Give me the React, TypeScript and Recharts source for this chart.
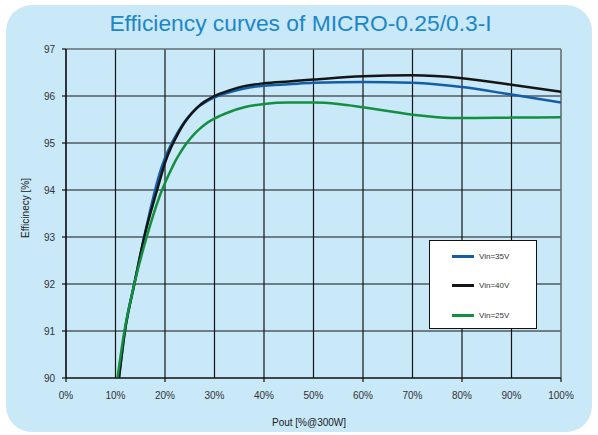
import React from "react";
import { LineChart, Line, XAxis, YAxis, CartesianGrid, ReferenceLine } from "recharts";

// Values (load in % of 300W, efficiency in %).
const xTicks = [0, 10, 20, 30, 40, 50, 60, 70, 80, 90, 100];
const yTicks = [90, 91, 92, 93, 94, 95, 96, 97];

const load35 = [10.7, 11.9, 13.8, 15.8, 18, 19, 20, 21, 22, 23, 24, 25, 26, 27, 28, 30, 33, 36, 40, 45, 50, 60, 70, 80, 90, 100];
const eff35 = [90, 91, 92, 93, 94, 94.38, 94.68, 94.92, 95.12, 95.3, 95.46, 95.59, 95.7, 95.79, 95.86, 95.97, 96.08, 96.16, 96.22, 96.25, 96.28, 96.3, 96.28, 96.19, 96.03, 95.86];

const load40 = [10.7, 11.9, 13.8, 15.8, 18.4, 19, 20, 21, 22, 23, 24, 25, 26, 27, 28, 30, 33, 36, 40, 45, 50, 60, 70, 80, 90, 100];
const eff40 = [90, 91, 92, 93, 94, 94.22, 94.58, 94.85, 95.07, 95.27, 95.44, 95.58, 95.7, 95.8, 95.88, 96.0, 96.12, 96.21, 96.27, 96.31, 96.35, 96.42, 96.44, 96.38, 96.24, 96.09];

const load25 = [10.4, 11.8, 13.8, 16.3, 19.4, 20, 21, 22, 23, 24, 25, 26, 27, 28, 30, 33, 36, 40, 45, 50, 55, 60, 65, 70, 75, 80, 90, 100];
const eff25 = [90, 91, 92, 93, 94, 94.15, 94.38, 94.6, 94.78, 94.94, 95.08, 95.2, 95.3, 95.39, 95.52, 95.66, 95.76, 95.83, 95.86, 95.86, 95.83, 95.76, 95.68, 95.6, 95.55, 95.53, 95.54, 95.55];

const series = [
  { name: "Vin=35V", color: "#145ea8", load: load35, eff: eff35 },
  { name: "Vin=40V", color: "#151515", load: load40, eff: eff40 },
  { name: "Vin=25V", color: "#12903f", load: load25, eff: eff25 },
];

const FONT = "'Liberation Sans', Arial, sans-serif";

function XTick(props: { x?: number; y?: number; payload?: { value: number } }) {
  const x = Number(props.x);
  const y = Number(props.y);
  const v = props.payload ? props.payload.value : 0;
  return (
    <g>
      {v % 20 === 0 && <line x1={x} x2={x} y1={y} y2={y + 4} stroke="#111" strokeWidth={1.2} />}
      <text x={x} y={y + 21} textAnchor="middle" fontSize={10} fill="#333" fontFamily={FONT}>
        {`${v}%`}
      </text>
    </g>
  );
}

function YTick(props: { x?: number; y?: number; payload?: { value: number } }) {
  const x = Number(props.x);
  const y = Number(props.y);
  const v = props.payload ? props.payload.value : 0;
  return (
    <g>
      <line x1={x - 4} x2={x} y1={y} y2={y} stroke="#111" strokeWidth={1.2} />
      <text x={x - 11} y={y + 3.5} textAnchor="end" fontSize={10} fill="#333" fontFamily={FONT}>
        {v}
      </text>
    </g>
  );
}

export default function App() {
  return (
    <div style={{ position: "relative", width: 598, height: 435, background: "#fff", fontFamily: FONT }}>
      <style>{`body{margin:0}`}</style>
      <div
        style={{
          position: "absolute",
          left: 6,
          top: 5,
          width: 586,
          height: 427,
          borderRadius: 26,
          background: "#c9e8f8",
        }}
      />
      <div
        style={{
          position: "absolute",
          left: 0,
          top: 10,
          width: 601,
          textAlign: "center",
          fontSize: 22.8,
          color: "#1b87c9",
          lineHeight: "26px",
        }}
      >
        Efficiency curves of MICRO-0.25/0.3-I
      </div>
      <div style={{ position: "absolute", left: 0, top: 0 }}>
        <LineChart width={598} height={435} margin={{ top: 49, right: 37, bottom: 0, left: 0 }}>
          <CartesianGrid stroke="#151515" strokeWidth={1.2} />
          <XAxis
            type="number"
            dataKey="load"
            domain={[0, 100]}
            ticks={xTicks}
            interval={0}
            height={57}
            tickSize={0}
            tickMargin={0}
            tick={<XTick />}
            axisLine={{ stroke: "#111", strokeWidth: 1.2 }}
            allowDataOverflow
          />
          <YAxis
            type="number"
            domain={[90, 97]}
            ticks={yTicks}
            interval={0}
            width={66}
            tickSize={0}
            tickMargin={0}
            tick={<YTick />}
            axisLine={{ stroke: "#111", strokeWidth: 1.2 }}
            allowDataOverflow
          />
          <ReferenceLine y={97} stroke="#8e9aa0" strokeWidth={1.2} />
          <ReferenceLine x={100} stroke="#8e9aa0" strokeWidth={1.2} />
          {series.map((s) => (
            <Line
              key={s.name}
              data={s.load.map((l, i) => ({ load: l, eff: s.eff[i] }))}
              dataKey="eff"
              name={s.name}
              type="monotone"
              stroke={s.color}
              strokeWidth={2.5}
              dot={false}
              activeDot={false}
              isAnimationActive={false}
            />
          ))}
        </LineChart>
      </div>
      <div
        style={{
          position: "absolute",
          left: 25,
          top: 208,
          transform: "translate(-50%, -50%) rotate(-90deg)",
          fontSize: 10,
          color: "#1a1a1a",
          whiteSpace: "nowrap",
        }}
      >
        Efficinecy [%]
      </div>
      <div
        style={{
          position: "absolute",
          left: 309,
          top: 422,
          transform: "translate(-50%, -50%)",
          fontSize: 10,
          color: "#1a1a1a",
          whiteSpace: "nowrap",
        }}
      >
        Pout [%@300W]
      </div>
      <div
        style={{
          position: "absolute",
          left: 429,
          top: 240,
          width: 106,
          height: 87,
          background: "#fff",
          border: "1px solid #111",
        }}
      >
        {series.map((s, i) => (
          <div
            key={s.name}
            style={{ position: "absolute", left: 22, top: 9 + i * 29.5, height: 12, display: "flex", alignItems: "center" }}
          >
            <span style={{ display: "inline-block", width: 22, height: 3, background: s.color }} />
            <span style={{ marginLeft: 5, fontSize: 8, color: "#333" }}>{s.name}</span>
          </div>
        ))}
      </div>
    </div>
  );
}
